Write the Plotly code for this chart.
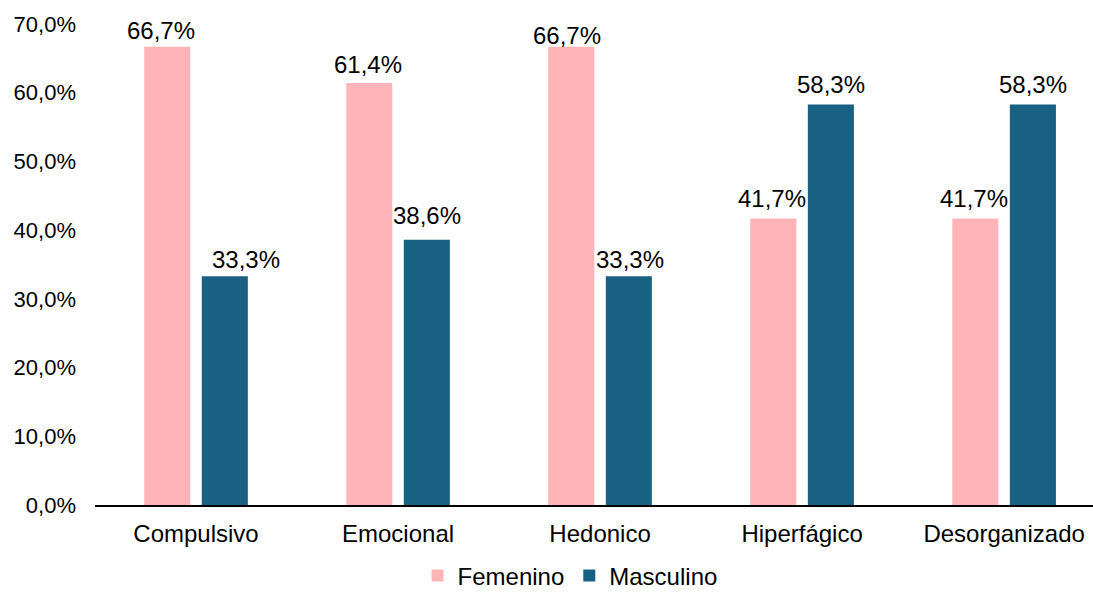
import plotly.graph_objects as go

categories = ["Compulsivo", "Emocional", "Hedonico", "Hiperfágico", "Desorganizado"]
femenino = [66.7, 61.4, 66.7, 41.7, 41.7]
masculino = [33.3, 38.6, 33.3, 58.3, 58.3]
y_ticks = [0, 10, 20, 30, 40, 50, 60, 70]
y_tick_labels = ["0,0%", "10,0%", "20,0%", "30,0%", "40,0%", "50,0%", "60,0%", "70,0%"]

# label nudges (px) to mimic the original's label placement
fem_dx = [-6, -1, -4, -1, -1]
fem_dy = [0, 2, -5, 3, 3]
mas_dx = [21, 0, 1, 0, 0]
mas_dy = [0, 8, 0, 3, 3]


def fmt(v):
    return f"{v:.1f}%".replace(".", ",")


PINK = "#FFB5B8"
BLUE = "#186183"
FONT = "Liberation Sans, Arial, sans-serif"

fig = go.Figure()
fig.add_trace(go.Bar(name="Femenino", x=categories, y=femenino, marker_color=PINK,
                     marker_line_width=0, cliponaxis=False))
fig.add_trace(go.Bar(name="Masculino", x=categories, y=masculino, marker_color=BLUE,
                     marker_line_width=0, cliponaxis=False))

L, R, T, B = 95, 0, 24, 88
W, H = 1093, 593
x_range = [-0.5, 4.44]
bargap, bargroupgap = 0.43, 0.2
px_per_cat = (W - L - R) / (x_range[1] - x_range[0])
half_slot = (1 - bargap) * px_per_cat / 2 / 2

for series, sign, dxs, dys in [(femenino, -1, fem_dx, fem_dy), (masculino, 1, mas_dx, mas_dy)]:
    for c, v, dx, dy in zip(categories, series, dxs, dys):
        fig.add_annotation(x=c, y=v, xref="x", yref="y", text=fmt(v), showarrow=False,
                           xanchor="center", yanchor="bottom",
                           xshift=sign * half_slot + dx, yshift=1 + dy,
                           font=dict(size=24, color="#000000", family=FONT))

fig.update_layout(
    width=W, height=H,
    margin=dict(l=L, r=R, t=T, b=B, autoexpand=False),
    paper_bgcolor="white", plot_bgcolor="white",
    barmode="group", bargap=bargap, bargroupgap=bargroupgap,
    font=dict(family=FONT, color="#000000", size=22),
    showlegend=True,
    legend=dict(orientation="h", x=0.476, xanchor="center", y=-0.194, yanchor="bottom",
                font=dict(size=24), itemwidth=30, traceorder="normal",
                tracegroupgap=0),
)
fig.update_xaxes(range=x_range, showline=True, linecolor="#000000", linewidth=2,
                 showgrid=False, ticks="", tickfont=dict(size=24), ticklabelstandoff=6,
                 fixedrange=True)
fig.update_yaxes(range=[0, 70], tickvals=y_ticks, ticktext=y_tick_labels, showgrid=False,
                 zeroline=False, showline=False, ticks="", tickfont=dict(size=22),
                 ticklabelstandoff=18)

fig.write_html("out.html")
